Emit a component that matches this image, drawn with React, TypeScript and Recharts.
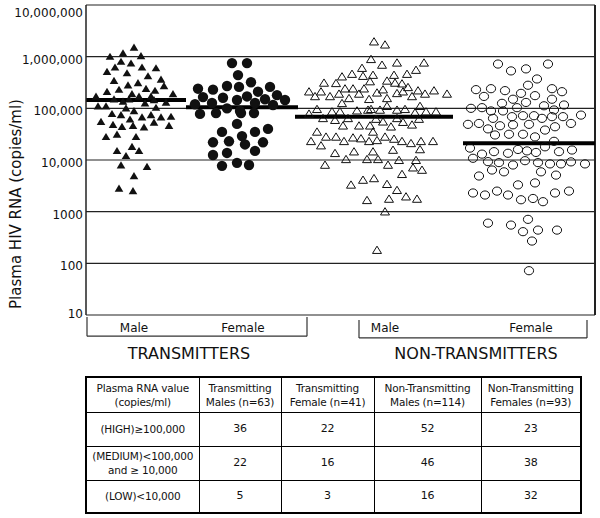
import {
  ScatterChart,
  Scatter,
  XAxis,
  YAxis,
  CartesianGrid,
  ReferenceLine,
} from "recharts";

// y axis (copies/ml, log scale)
const yTicks = [10, 100, 1000, 10000, 100000, 1000000, 10000000];
const yTickLabels = ["10", "100", "1000", "10,000", "100,000", "1,000,000", "10,000,000"];

// category labels under the plot (x = position across the plot)
const sexTicks = [48, 157, 299, 445];
const sexLabels = ["Male", "Female", "Male", "Female"];
const groupTicks = [103, 390];
const groupLabels = ["TRANSMITTERS", "NON-TRANSMITTERS"];

// [horizontal position, copies/ml]
const transMales: [number, number][] = [
  [48, 1.5e6], [24, 1.0e6], [37, 1.16e6], [55, 1.03e6], [35, 8.0e5], [45, 7.4e5],
  [21, 5.1e5], [29, 6.2e5], [56, 6.2e5], [70, 6.0e5], [41, 4.8e5], [62, 4.2e5],
  [28, 3.4e5], [52, 3.1e5], [75, 3.6e5], [42, 2.8e5], [21, 2.1e5], [33, 2.3e5],
  [60, 2.4e5], [78, 2.7e5], [69, 2.2e5], [10, 1.7e5], [46, 1.9e5], [87, 1.9e5],
  [53, 1.7e5], [65, 1.7e5], [12, 1.1e5], [20, 1.1e5], [28, 1.5e5], [37, 1.35e5],
  [59, 1.25e5], [68, 1.45e5], [80, 1.3e5], [40, 1.0e5], [48, 8.9e4], [70, 1.03e5],
  [26, 7.8e4], [35, 7.4e4], [56, 6.7e4], [65, 7.4e4], [75, 6.7e4], [85, 6.9e4],
  [44, 6.1e4], [15, 5.5e4], [27, 4.8e4], [36, 4.4e4], [47, 4.6e4], [58, 4.3e4],
  [68, 5.3e4], [83, 4.6e4], [20, 2.8e4], [31, 3.1e4], [50, 2.8e4], [31, 1.5e4],
  [46, 1.8e4], [53, 1.5e4], [40, 1.2e4], [35, 7.9e3], [61, 7.4e3], [48, 4.9e3],
  [33, 2.8e3], [47, 2.5e3], [43, 1.5e5],
];

const transFemales: [number, number][] = [
  [146, 7.5e5], [161, 7.5e5], [152, 4.4e5], [141, 2.7e5], [153, 2.6e5], [165, 3.2e5],
  [112, 2.4e5], [127, 2.3e5], [172, 2.1e5], [184, 2.6e5], [117, 1.65e5], [137, 1.6e5],
  [151, 1.45e5], [161, 1.7e5], [179, 1.5e5], [191, 1.8e5], [199, 1.45e5], [109, 1.2e5],
  [126, 1.27e5], [141, 1.0e5], [154, 8.9e4], [169, 1.27e5], [187, 1.16e5], [114, 7.8e4],
  [130, 8.1e4], [155, 8.1e4], [168, 8.1e4], [151, 5.0e4], [136, 3.5e4], [156, 2.9e4],
  [169, 3.5e4], [182, 4.0e4], [127, 2.2e4], [143, 2.3e4], [159, 2.0e4], [177, 2.2e4],
  [127, 1.25e4], [141, 1.37e4], [169, 1.5e4], [136, 7.7e3], [151, 8.8e3], [163, 8.0e3],
];

const nonTransMales: [number, number][] = [
  [288, 1.95e6], [299, 1.7e6], [285, 8.9e5], [296, 6.9e5], [311, 7.6e5], [338, 7.6e5],
  [276, 6.0e5], [330, 5.5e5], [321, 4.6e5], [256, 4.1e5], [266, 4.6e5], [277, 4.2e5],
  [287, 4.4e5], [308, 4.4e5], [238, 3.1e5], [250, 3.05e5], [284, 3.3e5], [301, 3.4e5],
  [309, 3.1e5], [316, 3.0e5], [259, 2.4e5], [267, 2.4e5], [278, 2.4e5], [297, 2.3e5],
  [322, 2.55e5], [223, 2.1e5], [235, 2.1e5], [229, 1.7e5], [244, 1.7e5], [253, 1.9e5],
  [263, 1.56e5], [273, 1.9e5], [283, 1.5e5], [291, 2.0e5], [301, 1.56e5], [311, 1.95e5],
  [317, 2.1e5], [326, 1.7e5], [332, 2.2e5], [339, 1.9e5], [348, 2.2e5], [361, 1.9e5],
  [256, 1.25e5], [231, 9.6e4], [285, 9.6e4], [301, 1.1e5], [334, 1.1e5], [246, 8.6e4],
  [254, 8.6e4], [271, 9.0e4], [282, 9.3e4], [294, 9.3e4], [311, 9.3e4], [319, 9.6e4],
  [329, 8.2e4], [340, 8.6e4], [350, 8.6e4], [223, 7.8e4], [237, 6.4e4], [249, 5.9e4],
  [262, 6.4e4], [290, 6.2e4], [297, 5.5e4], [311, 6.4e4], [317, 5.4e4], [326, 4.8e4],
  [333, 6.2e4], [257, 4.6e4], [273, 4.6e4], [284, 4.6e4], [305, 4.4e4], [231, 3.5e4],
  [287, 3.5e4], [225, 2.3e4], [235, 1.9e4], [240, 2.8e4], [250, 2.8e4], [258, 2.3e4],
  [267, 2.7e4], [275, 2.6e4], [283, 2.3e4], [291, 2.4e4], [299, 2.8e4], [308, 2.55e4],
  [316, 2.3e4], [325, 2.1e4], [335, 2.3e4], [347, 2.3e4], [334, 1.6e4], [249, 1.35e4],
  [268, 1.45e4], [287, 1.45e4], [307, 1.56e4], [239, 8.0e3], [260, 1.03e4], [281, 1.03e4],
  [292, 1.03e4], [302, 8.0e3], [313, 9.9e3], [330, 9.9e3], [327, 7.1e3], [336, 6.4e3],
  [316, 5.3e3], [265, 3.3e3], [277, 4.1e3], [288, 4.4e3], [301, 3.4e3], [311, 2.6e3],
  [281, 1.66e3], [303, 1.76e3], [320, 1.95e3], [331, 1.76e3], [299, 1.0e3], [291, 180],
];

const nonTransFemales: [number, number][] = [
  [412, 7.2e5], [425, 5.3e5], [440, 5.8e5], [462, 7.2e5], [451, 3.7e5], [442, 2.8e5],
  [390, 2.3e5], [405, 2.4e5], [419, 2.2e5], [466, 2.4e5], [476, 2.1e5], [435, 1.95e5],
  [398, 1.7e5], [449, 1.76e5], [427, 1.5e5], [466, 1.5e5], [416, 1.25e5], [440, 1.3e5],
  [478, 1.16e5], [458, 1.12e5], [385, 1.0e5], [396, 1.03e5], [405, 8.9e4], [417, 8.9e4],
  [431, 1.03e5], [468, 9.3e4], [407, 6.4e4], [426, 6.9e4], [437, 7.2e4], [448, 7.2e4],
  [456, 6.4e4], [466, 6.9e4], [477, 6.9e4], [495, 7.4e4], [382, 4.9e4], [393, 5.1e4],
  [402, 4.0e4], [414, 4.6e4], [427, 4.8e4], [443, 4.9e4], [459, 3.8e4], [469, 4.4e4],
  [485, 5.1e4], [409, 3.05e4], [423, 3.15e4], [437, 3.15e4], [449, 2.8e4], [468, 2.3e4],
  [384, 1.7e4], [396, 1.3e4], [408, 1.45e4], [422, 1.35e4], [432, 1.6e4], [441, 1.5e4],
  [450, 1.4e4], [459, 1.8e4], [473, 1.45e4], [486, 1.56e4], [387, 1.08e4], [402, 9.3e3],
  [413, 8.9e3], [427, 8.0e3], [439, 9.7e3], [452, 8.9e3], [464, 8.4e3], [475, 8.4e3],
  [485, 9.2e3], [499, 8.4e3], [406, 6.4e3], [418, 5.9e3], [455, 5.9e3], [393, 4.9e3],
  [470, 5.1e3], [432, 3.3e3], [449, 3.6e3], [387, 2.3e3], [399, 2.1e3], [411, 2.5e3],
  [422, 2.1e3], [435, 1.7e3], [447, 1.8e3], [457, 1.56e3], [469, 2.3e3], [483, 2.5e3],
  [442, 710], [402, 600], [425, 550], [437, 410], [452, 440], [471, 440], [446, 270],
  [443, 72],
];

// group medians (copies/ml)
const medians = [145000, 105000, 69000, 21000];

// table below the plot
const tableHead = [
  "Plasma RNA value\n(copies/ml)",
  "Transmitting\nMales (n=63)",
  "Transmitting\nFemale (n=41)",
  "Non-Transmitting\nMales (n=114)",
  "Non-Transmitting\nFemales (n=93)",
];
const rowLabels = ["(HIGH)\u2265100,000", "(MEDIUM)<100,000\nand \u2265 10,000", "(LOW)<10,000"];
const transMaleCounts = [36, 22, 5];
const transFemaleCounts = [22, 16, 3];
const nonTransMaleCounts = [52, 46, 16];
const nonTransFemaleCounts = [23, 38, 32];

// layout
const X_MAX = 509;
const medianSpans = [[0, 100], [100, 212], [209, 367], [377, 509]];
const brackets = [
  { from: 1, to: 221, top: 9.1, bottom: 3.9 },
  { from: 273, to: 501, top: 8.0, bottom: 3.6 },
];
const FONT = "DejaVu Sans, Verdana, sans-serif";
const INK = "#111";

const toPoints = (arr: [number, number][]) => arr.map(([x, y]) => ({ x, y }));

const FilledTriangle = ({ cx, cy }: any) => (
  <path d={`M${cx},${cy - 4}L${cx + 4.3},${cy + 3.2}L${cx - 4.3},${cy + 3.2}Z`} fill={INK} />
);
const OpenTriangle = ({ cx, cy }: any) => (
  <path
    d={`M${cx},${cy - 4}L${cx + 4.5},${cy + 3.3}L${cx - 4.5},${cy + 3.3}Z`}
    fill="none"
    stroke={INK}
    strokeWidth={1}
  />
);
const FilledCircle = ({ cx, cy }: any) => <circle cx={cx} cy={cy} r={5.2} fill={INK} />;
const OpenCircle = ({ cx, cy }: any) => (
  <ellipse cx={cx} cy={cy} rx={4.6} ry={4.1} fill="none" stroke={INK} strokeWidth={1} />
);

const YTick = ({ x, y, payload }: any) => {
  const i = yTicks.indexOf(payload.value);
  const dy = i === yTicks.length - 1 ? 12 : i === 0 ? 3 : 7;
  return (
    <text x={x} y={y + dy} textAnchor="end" fontSize={12} fill={INK} fontFamily={FONT}>
      {yTickLabels[i]}
    </text>
  );
};

// sex labels right under the plot, group names one line lower
const XTick = ({ x, y, payload }: any) => {
  const si = sexTicks.indexOf(payload.value);
  if (si >= 0) {
    return (
      <text x={x} y={y + 17} textAnchor="middle" fontSize={12} fill={INK} fontFamily={FONT}>
        {sexLabels[si]}
      </text>
    );
  }
  const gi = groupTicks.indexOf(payload.value);
  return (
    <text x={x} y={y + 44} textAnchor="middle" fontSize={16} fill={INK} fontFamily={FONT}>
      {groupLabels[gi]}
    </text>
  );
};

const YTitle = () => (
  <text
    transform="translate(16,204) rotate(-90)"
    textAnchor="middle"
    dominantBaseline="central"
    fontSize={15}
    fill={INK}
    fontFamily={FONT}
  >
    Plasma HIV RNA (copies/ml)
  </text>
);

const cell: React.CSSProperties = {
  border: "1px solid #000",
  textAlign: "center",
  verticalAlign: "middle",
  padding: 0,
  whiteSpace: "pre-line",
};

export default function App() {
  const counts = [transMaleCounts, transFemaleCounts, nonTransMaleCounts, nonTransFemaleCounts];
  const colWidths = [113, 82, 93, 107, 100];
  const rowHeights = [34, 34, 33];
  const xTicks = [...sexTicks, ...groupTicks].sort((a, b) => a - b);

  return (
    <div
      style={{
        position: "absolute",
        left: 0,
        top: 0,
        width: 600,
        height: 518,
        background: "#fff",
        fontFamily: FONT,
      }}
    >
      <ScatterChart width={600} height={370} margin={{ top: 5, right: 5, bottom: 0, left: 0 }}>
        <CartesianGrid horizontal vertical={false} stroke="#222" strokeWidth={1.2} />
        <XAxis
          xAxisId="sex"
          type="number"
          dataKey="x"
          domain={[0, X_MAX]}
          ticks={xTicks}
          interval={0}
          axisLine={false}
          tickLine={false}
          tickSize={0}
          tickMargin={0}
          height={55}
          tick={<XTick />}
        />
        <YAxis
          type="number"
          dataKey="y"
          scale="log"
          domain={[10, 10000000]}
          allowDataOverflow
          ticks={yTicks}
          interval={0}
          width={86}
          tickSize={0}
          tickMargin={3}
          tickLine={false}
          axisLine={{ stroke: "#222", strokeWidth: 1.5 }}
          tick={<YTick />}
          label={<YTitle />}
        />
        <ReferenceLine xAxisId="sex" x={X_MAX} stroke="#222" strokeWidth={2} />

        <Scatter xAxisId="sex" data={toPoints(transMales)} shape={FilledTriangle} isAnimationActive={false} />
        <Scatter xAxisId="sex" data={toPoints(transFemales)} shape={FilledCircle} isAnimationActive={false} />
        <Scatter xAxisId="sex" data={toPoints(nonTransMales)} shape={OpenTriangle} isAnimationActive={false} />
        <Scatter xAxisId="sex" data={toPoints(nonTransFemales)} shape={OpenCircle} isAnimationActive={false} />

        {medians.map((m, i) => (
          <ReferenceLine
            key={`med-${i}`}
            xAxisId="sex"
            segment={[
              { x: medianSpans[i][0], y: m },
              { x: medianSpans[i][1], y: m },
            ]}
            stroke="#000"
            strokeWidth={4}
            ifOverflow="visible"
          />
        ))}

        {brackets.flatMap((b, i) => [
          <ReferenceLine
            key={`bl-${i}`}
            xAxisId="sex"
            segment={[{ x: b.from, y: b.top }, { x: b.from, y: b.bottom }]}
            stroke="#333"
            strokeWidth={1.2}
            ifOverflow="visible"
          />,
          <ReferenceLine
            key={`bb-${i}`}
            xAxisId="sex"
            segment={[{ x: b.from, y: b.bottom }, { x: b.to, y: b.bottom }]}
            stroke="#333"
            strokeWidth={1.2}
            ifOverflow="visible"
          />,
          <ReferenceLine
            key={`br-${i}`}
            xAxisId="sex"
            segment={[{ x: b.to, y: b.top }, { x: b.to, y: b.bottom }]}
            stroke="#333"
            strokeWidth={1.2}
            ifOverflow="visible"
          />,
        ])}
      </ScatterChart>

      <table
        style={{
          position: "absolute",
          left: 85,
          top: 376,
          width: 495,
          height: 136,
          borderCollapse: "collapse",
          border: "2px solid #000",
          tableLayout: "fixed",
          fontSize: 10.5,
          lineHeight: "14px",
          color: INK,
          fontFamily: FONT,
          letterSpacing: -0.2,
        }}
      >
        <colgroup>
          {colWidths.map((w, i) => (
            <col key={i} style={{ width: w }} />
          ))}
        </colgroup>
        <tbody>
          <tr style={{ height: 35 }}>
            {tableHead.map((h, i) => (
              <td key={i} style={cell}>
                {h}
              </td>
            ))}
          </tr>
          {rowLabels.map((label, r) => (
            <tr key={r} style={{ height: rowHeights[r] }}>
              <td style={cell}>{label}</td>
              {counts.map((c, j) => (
                <td key={j} style={{ ...cell, fontSize: 11 }}>
                  {c[r]}
                </td>
              ))}
            </tr>
          ))}
        </tbody>
      </table>
    </div>
  );
}
